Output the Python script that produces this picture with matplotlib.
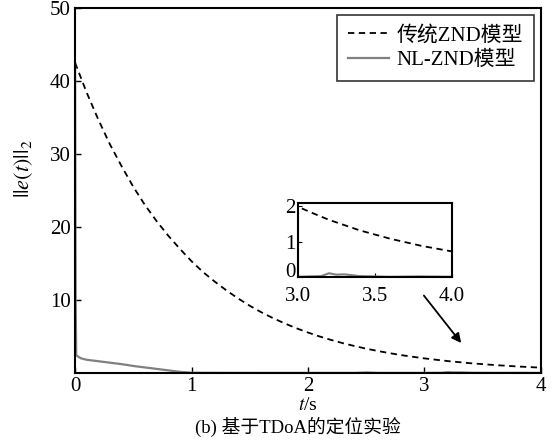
import matplotlib
matplotlib.use("Agg")
import matplotlib.pyplot as plt

plt.rcParams['font.family'] = ['Liberation Serif', 'Noto Sans CJK SC']
plt.rcParams['mathtext.fontset'] = 'stix'

# 传统ZND模型 (dashed)
t_znd = [0.0, 0.1, 0.2, 0.3, 0.4, 0.5, 0.6, 0.7, 0.8, 0.9,
         1.0, 1.1, 1.2, 1.3, 1.4, 1.5, 1.6, 1.7, 1.8, 1.9,
         2.0, 2.1, 2.2, 2.3, 2.4, 2.5, 2.6, 2.7, 2.8, 2.9,
         3.0, 3.1, 3.2, 3.3, 3.4, 3.5, 3.6, 3.7, 3.8, 3.9, 4.0]
e_znd = [42.5, 38.4, 34.7, 31.3, 28.3, 25.5, 23.0, 20.8, 18.8, 17.0,
         15.3, 13.8, 12.5, 11.3, 10.2, 9.2, 8.3, 7.5, 6.78, 6.12,
         5.53, 4.99, 4.51, 4.07, 3.68, 3.32, 3.00, 2.71, 2.44, 2.21,
         1.99, 1.80, 1.62, 1.47, 1.32, 1.20, 1.08, 0.98, 0.88, 0.80, 0.72]

# NL-ZND模型 (solid gray)
t_nl = [0.0, 0.005, 0.01, 0.05, 0.1, 0.2, 0.3, 0.4, 0.5, 0.6, 0.7, 0.8, 0.9, 1.0,
        1.5, 2.0, 2.4, 2.5, 2.6, 3.0, 3.15, 3.2, 3.25, 3.3, 3.4, 3.6, 3.8, 4.0]
e_nl = [42.5, 10.0, 2.4, 2.0, 1.8, 1.6, 1.4, 1.2, 0.95, 0.75, 0.55, 0.35, 0.15, 0.02,
        0.0, 0.0, 0.0, 0.06, 0.0, 0.0, 0.02, 0.1, 0.06, 0.07, 0.02, 0.0, 0.01, 0.0]

fig = plt.figure(figsize=(5.52, 4.45), dpi=100)
ax = fig.add_axes([0.136, 0.162, 0.844, 0.820])
ax.plot(t_znd, e_znd, color='black', lw=1.3, dashes=(3.5, 2.5), label='传统ZND模型')
ax.plot(t_nl, e_nl, '-', color='#808080', lw=1.6, label='NL-ZND模型', clip_on=False)
ax.set_xlim(0, 4)
ax.set_ylim(0, 50)
ax.set_xticks([0, 1, 2, 3, 4])
ax.set_yticks([10, 20, 30, 40, 50])
ax.tick_params(direction='in', labelsize=15, length=4, width=1, pad=3)
for s in ax.spines.values():
    s.set_linewidth(1.5)
ax.set_xlabel('$t$/s', fontsize=14, labelpad=1)
ax.set_ylabel('$||e(t)||_2$', fontsize=16)
ax.yaxis.set_label_coords(-0.085, 0.56)
leg = ax.legend(loc='upper right', fontsize=15, frameon=True, fancybox=False,
                edgecolor='black', handlelength=2.0, borderpad=0.5,
                labelspacing=0.25, handletextpad=0.35, borderaxespad=0.35)
leg.get_frame().set_linewidth(1.2)

ax.annotate('', xy=(3.33, 3.8), xytext=(2.98, 10.9),
            arrowprops=dict(arrowstyle='-|>', color='black', lw=1.3, mutation_scale=14))

ins = fig.add_axes([0.540, 0.378, 0.279, 0.166])
ins.plot(t_znd, e_znd, color='black', lw=1.3, dashes=(3.5, 2.5))
ins.plot(t_nl, e_nl, '-', color='#808080', lw=1.5)
ins.set_xlim(3, 4)
ins.set_ylim(0, 2.1)
ins.set_xticks([3.0, 3.5, 4.0])
ins.set_xticklabels(['3.0', '3.5', '4.0'])
ins.set_yticks([0, 1, 2])
ins.tick_params(direction='in', labelsize=15, length=3)
ins.tick_params(axis='x', pad=7)
ins.tick_params(axis='y', pad=2)
ins.get_yticklabels()[0].set_verticalalignment('baseline')
for s in ins.spines.values():
    s.set_linewidth(1.5)

fig.text(0.54, 0.028, '(b) 基于TDoA的定位实验', fontsize=13.5, ha='center')

fig.savefig('out.png', dpi=100)
